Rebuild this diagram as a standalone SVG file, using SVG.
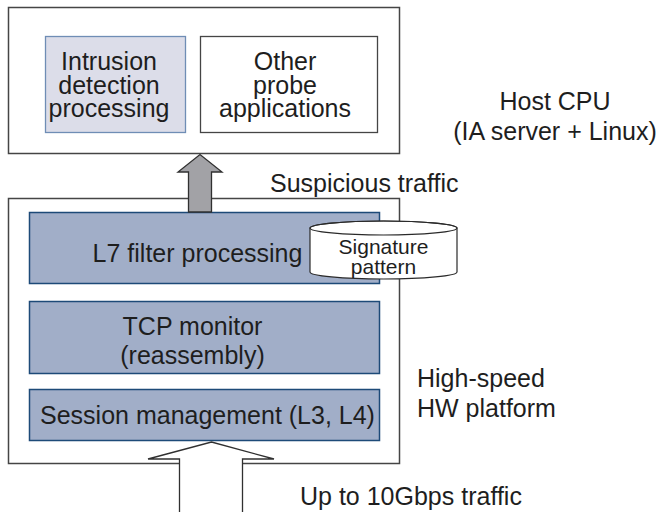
<svg xmlns="http://www.w3.org/2000/svg" width="659" height="512" viewBox="0 0 659 512">
  <style>
    text { font-family: "Liberation Sans", Arial, sans-serif; fill: #1e1e1e; }
    .big { font-size: 25px; }
    .mid { text-anchor: middle; }
    .frame { fill: #ffffff; stroke: #454545; stroke-width: 1.5; }
    .stage { fill: #a1aec8; stroke: #1d4a78; stroke-width: 1.5; }
    .app { stroke-width: 1.3; }
  </style>

  <!-- Host CPU frame with applications -->
  <g id="host-cpu">
    <rect class="frame" x="8.5" y="7.5" width="391" height="146"/>
    <text class="big" x="555" y="110" text-anchor="middle">Host CPU</text>
    <text class="big" x="555" y="140" text-anchor="middle">(IA server + Linux)</text>
  </g>
  <g id="intrusion-detection">
    <rect class="app" x="45.5" y="36.5" width="140" height="96" fill="#dcdde9" stroke="#6f8db5"/>
    <text class="big mid" x="109" y="70">Intrusion</text>
    <text class="big mid" x="109" y="93.5">detection</text>
    <text class="big mid" x="109" y="117">processing</text>
  </g>
  <g id="other-probes">
    <rect class="app" x="200.5" y="36.5" width="177" height="96" fill="#ffffff" stroke="#454545"/>
    <text class="big mid" x="285" y="70">Other</text>
    <text class="big mid" x="285" y="93.5">probe</text>
    <text class="big mid" x="285" y="117">applications</text>
  </g>

  <!-- High-speed hardware platform frame -->
  <g id="hw-platform">
    <rect class="frame" x="8.5" y="198.5" width="391" height="265"/>
    <text class="big" x="417" y="387">High-speed</text>
    <text class="big" x="417" y="417">HW platform</text>
  </g>
  <g id="l7-filter">
    <rect class="stage" x="29.5" y="212.5" width="350" height="71"/>
    <text class="big mid" x="197.5" y="262">L7 filter processing</text>
  </g>
  <g id="tcp-monitor">
    <rect class="stage" x="29.5" y="301.5" width="350" height="72"/>
    <text class="big mid" x="192.5" y="335">TCP monitor</text>
    <text class="big mid" x="192.5" y="364">(reassembly)</text>
  </g>
  <g id="session-management">
    <rect class="stage" x="29.5" y="389.5" width="350" height="51"/>
    <text class="big mid" x="207.5" y="424">Session management (L3, L4)</text>
  </g>

  <!-- Signature pattern store -->
  <g id="signature-pattern">
    <path d="M310,228 L310,272 A73.5,7 0 0 0 457,272 L457,228 A73.5,7 0 0 0 310,228 Z" fill="#ffffff" stroke="#2a2a2a" stroke-width="1.2"/>
    <ellipse cx="383.5" cy="228" rx="73.5" ry="7" fill="none" stroke="#2a2a2a" stroke-width="1.2"/>
    <text class="mid" x="383.5" y="254" font-size="21">Signature</text>
    <text class="mid" x="383.5" y="274" font-size="21">pattern</text>
  </g>

  <!-- Connectors -->
  <g id="connectors">
    <polygon id="suspicious-arrow" points="188.5,212 188.5,172 178,172 200,154.5 222,172 211.5,172 211.5,212" fill="#a2a2a6" stroke="#303030" stroke-width="1.3"/>
    <text class="big" x="270" y="192">Suspicious traffic</text>
    <polygon id="ingress-arrow" points="179.5,513 179.5,459 148,459 211.5,442 274,459 242.5,459 242.5,513" fill="#ffffff" stroke="#303030" stroke-width="1.3"/>
    <text class="big" x="300" y="505">Up to 10Gbps traffic</text>
  </g>
</svg>
